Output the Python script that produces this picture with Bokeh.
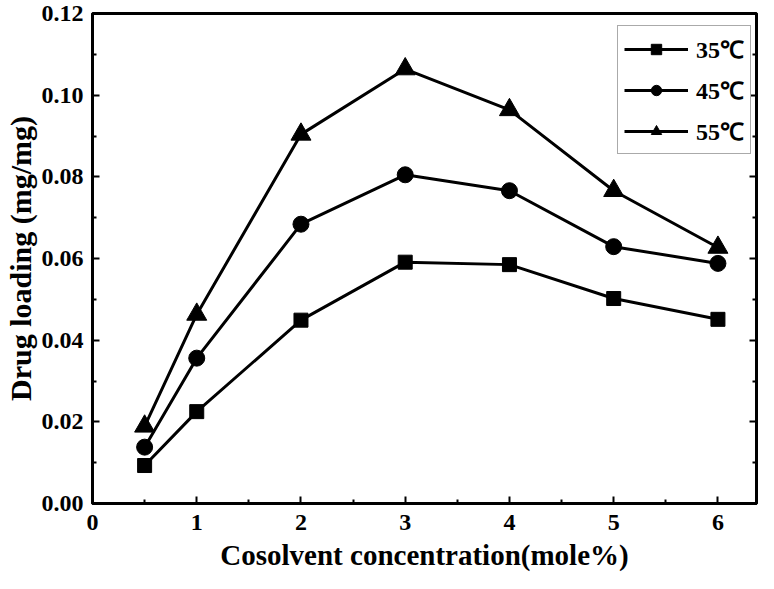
from bokeh.plotting import figure
from bokeh.models import (LinearAxis, Range1d, FixedTicker, Legend, LegendItem,
                          NumeralTickFormatter, CustomJSTickFormatter)
from bokeh.embed import file_html
from bokeh.resources import INLINE
import numpy as np

# ---- data ----
conc = [0.5, 1, 2, 3, 4, 5, 6]
load_35 = [0.0093, 0.0225, 0.0449, 0.0591, 0.0585, 0.0502, 0.0451]
load_45 = [0.0138, 0.0356, 0.0684, 0.0805, 0.0766, 0.0629, 0.0588]
load_55 = [0.0189, 0.0463, 0.0904, 0.1064, 0.0964, 0.0766, 0.0627]
series_labels = ["35℃", "45℃", "55℃"]
x_ticks = [0, 1, 2, 3, 4, 5, 6]
y_ticks = [0.00, 0.02, 0.04, 0.06, 0.08, 0.10, 0.12]
x_title = "Cosolvent concentration(mole%)"
y_title = "Drug loading (mg/mg)"

FONT = "Liberation Serif"

p = figure(width=758, height=573, output_backend="svg", toolbar_location=None,
           x_range=Range1d(0, 6.37), y_range=Range1d(0, 0.12),
           min_border_left=92, min_border_right=2, min_border_top=13, min_border_bottom=69)
p.xgrid.visible = False
p.ygrid.visible = False
p.outline_line_color = "black"
p.outline_line_width = 3
p.outline_line_alpha = 1.0

x_minor = list(np.arange(0.5, 6.5, 1.0))
y_minor = list(np.round(np.arange(0.01, 0.12, 0.02), 3))

def style_axis(ax):
    ax.axis_line_width = 3
    ax.axis_line_color = "black"
    ax.major_tick_in = 7
    ax.major_tick_out = 0
    ax.minor_tick_in = 4
    ax.minor_tick_out = 0
    ax.major_tick_line_width = 2
    ax.minor_tick_line_width = 2
    ax.major_tick_line_color = "black"
    ax.minor_tick_line_color = "black"
    ax.major_label_text_font = FONT
    ax.major_label_text_font_style = "bold"
    ax.major_label_text_font_size = "24px"
    ax.major_label_text_color = "black"
    ax.axis_label_text_font = FONT
    ax.axis_label_text_font_style = "bold"
    ax.axis_label_text_color = "black"

xa = p.xaxis[0]
xa.ticker = FixedTicker(ticks=x_ticks, minor_ticks=x_minor)
style_axis(xa)
xa.major_label_standoff = 11
xa.axis_label = x_title
xa.axis_label_text_font_size = "29px"
xa.axis_label_standoff = 6

ya = p.yaxis[0]
ya.ticker = FixedTicker(ticks=y_ticks, minor_ticks=y_minor)
ya.formatter = NumeralTickFormatter(format="0.00")
style_axis(ya)
ya.major_label_standoff = 9
ya.axis_label = y_title
ya.axis_label_text_font_size = "30px"
ya.axis_label_standoff = 2

ra = LinearAxis(ticker=FixedTicker(ticks=y_ticks, minor_ticks=y_minor),
                formatter=CustomJSTickFormatter(code="return ''"))
style_axis(ra)
ra.major_label_text_font_size = "1px"
ra.major_label_standoff = 0
p.add_layout(ra, "right")

series = [(load_35, "square", 14), (load_45, "circle", 16), (load_55, "triangle", 20)]
items = []
for (vals, marker, size), lab in zip(series, series_labels):
    ln = p.line(conc, vals, line_color="black", line_width=3)
    sc = p.scatter(conc, vals, marker=marker, size=size, fill_color="black", line_color="black")
    items.append(LegendItem(label=lab, renderers=[ln, sc]))

legend = Legend(items=items, location=(525, 349))
legend.label_text_font = FONT
legend.label_text_font_style = "bold"
legend.label_text_font_size = "24px"
legend.label_text_color = "black"
legend.border_line_color = "#555555"
legend.border_line_width = 1
legend.background_fill_color = "white"
legend.background_fill_alpha = 1.0
legend.glyph_width = 64
legend.glyph_height = 26
legend.spacing = 8
legend.padding = 6
legend.margin = 0
legend.label_standoff = 8
legend.label_height = 26
p.add_layout(legend, "center")

open("out.html", "w").write(file_html(p, INLINE))
